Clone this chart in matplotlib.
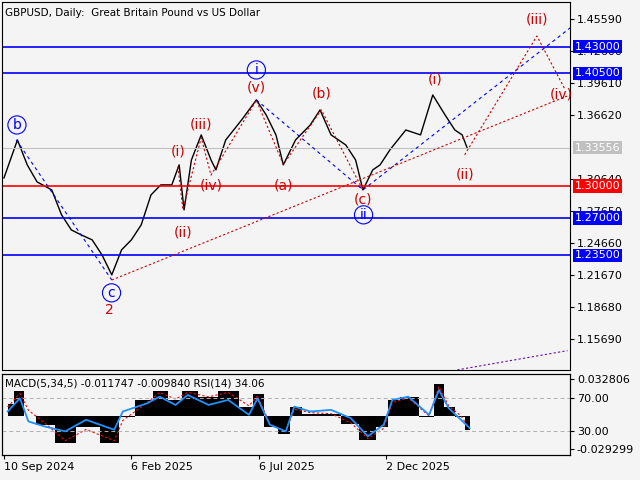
import matplotlib
matplotlib.use("Agg")
import matplotlib.pyplot as plt
from matplotlib.transforms import blended_transform_factory as btf

# ---- data ----
price_bar = [0, 11, 19, 27, 39, 47, 55, 63, 72, 80, 88, 96, 104, 112, 120, 128, 137, 143, 147, 153, 161, 169, 173, 181, 194, 206, 214, 222, 228, 238, 250, 258, 267, 279, 287, 293, 301, 307, 315, 328, 340, 350, 360, 368, 374, 378]
price_val = [1.3074, 1.3429, 1.3196, 1.3037, 1.2962, 1.2729, 1.2588, 1.2542, 1.2495, 1.2355, 1.2168, 1.2402, 1.2495, 1.2635, 1.2915, 1.3009, 1.3009, 1.3196, 1.2775, 1.3242, 1.3476, 1.3242, 1.3149, 1.3429, 1.3616, 1.3803, 1.3663, 1.3476, 1.3196, 1.3429, 1.3569, 1.3709, 1.3476, 1.3382, 1.3242, 1.2962, 1.3149, 1.3196, 1.3336, 1.3522, 1.3476, 1.3849, 1.3663, 1.3522, 1.3476, 1.3356]

ind_bar = [3, 13, 20, 33, 50, 67, 90, 97, 117, 127, 140, 150, 167, 183, 200, 207, 217, 230, 237, 250, 267, 283, 297, 310, 317, 330, 347, 355, 363, 373, 380]
macd = [0.0109, 0.0226, 0.0, -0.0082, -0.0244, -0.0097, -0.0244, -0.0009, 0.0138, 0.0226, 0.0138, 0.0226, 0.0168, 0.0226, 0.0079, 0.0197, -0.0097, -0.0156, 0.0079, 0.0021, 0.0021, -0.0068, -0.0215, -0.0097, 0.0138, 0.0168, -0.0009, 0.0285, 0.0079, -0.0009, -0.0126]
signal = [0.0080, 0.0200, 0.0050, -0.0060, -0.0220, -0.0120, -0.0220, -0.0040, 0.0120, 0.0210, 0.0150, 0.0210, 0.0170, 0.0210, 0.0090, 0.0180, -0.0070, -0.0140, 0.0060, 0.0030, 0.0020, -0.0060, -0.0200, -0.0110, 0.0120, 0.0160, 0.0000, 0.0260, 0.0090, 0.0000, -0.0110]
rsi = [53.7, 70, 41.4, 35.3, 29.2, 43.5, 31.2, 53.7, 63.9, 72, 61.8, 74.1, 61.8, 68, 49.6, 70, 37.4, 29.2, 59.8, 53.7, 55.7, 45.5, 23.1, 37.4, 68, 72, 49.6, 80.2, 57.8, 43.5, 33.3]

yticks = [1.45590, 1.42600, 1.39610, 1.36620, 1.30640, 1.27650, 1.24660, 1.21670, 1.18680, 1.15690]
blue_levels = [1.43, 1.405, 1.27, 1.235]
red_level = 1.30
last_price = 1.33556
date_bars = [0, 104, 208, 312]
date_labels = ["10 Sep 2024", "6 Feb 2025", "6 Jul 2025", "2 Dec 2025"]

labels = [("b", 10.6, 1.3569, True), ("c", 87.8, 1.2000, True), ("2", 86, 1.1841, False),
          ("(i)", 142, 1.3317, False), ("(ii)", 146, 1.2560, False), ("(iii)", 161, 1.3569, False),
          ("(iv)", 169, 1.3000, False), ("(v)", 206, 1.3915, False), ("i", 206, 1.4083, True),
          ("(a)", 228, 1.3000, False), ("(b)", 259, 1.3859, False), ("(c)", 293, 1.2869, False),
          ("ii", 293.5, 1.2729, True), ("(i)", 352, 1.3990, False), ("(ii)", 376, 1.3102, False),
          ("(iii)", 435, 1.4550, False), ("(iv)", 455, 1.3849, False)]

blue_wave_x = [[10, 88], [206, 293, 462]]
blue_wave_y = [[1.343, 1.212], [1.3803, 1.2962, 1.4475]]
red_wave_x = [[88, 462], [142, 146, 161, 169, 206, 228, 259, 293], [376, 435, 458]]
red_wave_y = [[1.212, 1.385], [1.318, 1.278, 1.345, 1.310, 1.380, 1.320, 1.371, 1.296], [1.329, 1.440, 1.390]]
purple_x = [370, 460]
purple_y = [1.128, 1.146]

# ---- figure ----
bg = "#f4f4f4"
fig = plt.figure(figsize=(6.4, 4.8), dpi=100, facecolor=bg)
ax = fig.add_axes([2/640, 110/480, 568/640, 368/480], facecolor=bg)
ax2 = fig.add_axes([2/640, 25/480, 568/640, 81/480], facecolor=bg)
xlim = (-1.6, 462)

ax.plot(price_bar, price_val, color="black", lw=1.0)
for lv in blue_levels:
    ax.axhline(lv, color="#0000ff", lw=1.2)
ax.axhline(red_level, color="#ff0000", lw=1.2)
ax.axhline(last_price, color="#c0c0c0", lw=0.8)
for xs, ys in zip(blue_wave_x, blue_wave_y):
    ax.plot(xs, ys, color="#0000ff", lw=0.8, ls=(0, (3, 3)))
for xs, ys in zip(red_wave_x, red_wave_y):
    ax.plot(xs, ys, color="#cc0000", lw=0.8, ls=(0, (2, 2)))
ax.plot(purple_x, purple_y, color="#6a0dad", lw=0.8, ls=(0, (2, 2)))

for t, x, y, circ in labels:
    if circ:
        ax.text(x, y, t, color="#0000ff", fontsize=10, ha="center", va="center",
                bbox=dict(boxstyle="circle,pad=0.15", fc="none", ec="#0000ff", lw=0.8))
    elif t == "2":
        ax.text(x, y, t, color="#cc0000", fontsize=10, ha="center", va="center")
    else:
        ax.text(x, y, t, color="#cc0000", fontsize=10, ha="center", va="center")

ax.set_xlim(*xlim)
ax.set_ylim(1.1279, 1.4718)
ax.yaxis.tick_right()
ax.set_yticks(yticks)
ax.set_yticklabels([f"{v:.5f}" for v in yticks], fontsize=8)
ax.set_xticks([])
ax.tick_params(axis="y", length=3, pad=2)
tr = btf(ax.transAxes, ax.transData)
for lv, c, tc in [(1.43, "#0000ff", "white"), (1.405, "#0000ff", "white"), (1.27, "#0000ff", "white"),
                  (1.235, "#0000ff", "white"), (1.30, "#ff0000", "white"), (last_price, "#c0c0c0", "white")]:
    ax.text(1.008, lv, f"{lv:.5f}", transform=tr, color=tc, fontsize=8, va="center", ha="left",
            bbox=dict(boxstyle="square,pad=0.15", fc=c, ec="none"))
ax.text(0.005, 0.985, "GBPUSD, Daily:  Great Britain Pound vs US Dollar", transform=ax.transAxes,
        fontsize=7.5, va="top")

# ---- indicator ----
axm = ax2.twinx()
axm.fill_between(ind_bar, 0, macd, color="black", step="mid", lw=0)
axm.plot(ind_bar, signal, color="#ff0000", lw=0.8, ls=(0, (2, 2)))
axm.set_ylim(-0.03470, 0.03731)
axm.set_yticks([])
ax2.plot(ind_bar, rsi, color="#1e90ff", lw=1.3, zorder=5)
ax2.set_zorder(axm.get_zorder() + 1)
ax2.patch.set_visible(False)
axm.patch.set_facecolor(bg)
for lv in (70, 30):
    ax2.axhline(lv, color="#b0b0b0", lw=0.7, ls=(0, (4, 3)))
ax2.set_ylim(0, 100)
ax2.set_xlim(*xlim)
ax2.yaxis.tick_right()
ax2.set_yticks([93.75, 70, 30, 7.5])
ax2.set_yticklabels(["0.032806", "70.00", "30.00", "-0.029299"], fontsize=8)
ax2.tick_params(axis="y", length=3, pad=2)
ax2.set_xticks(date_bars)
ax2.set_xticklabels(date_labels, fontsize=8, ha="left")
ax2.tick_params(axis="x", length=3, pad=2)
ax2.text(0.005, 0.95, "MACD(5,34,5) -0.011747 -0.009840 RSI(14) 34.06", transform=ax2.transAxes,
         fontsize=7.5, va="top")

fig.savefig("out.png", dpi=100, facecolor=bg)
